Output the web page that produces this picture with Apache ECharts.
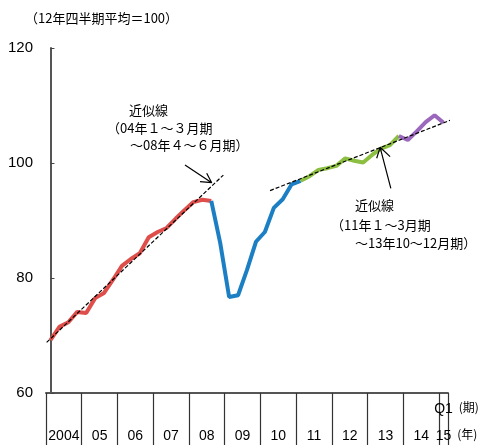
<!DOCTYPE html>
<html>
<head>
<meta charset="utf-8">
<script src="https://cdn.jsdelivr.net/npm/echarts@6/dist/echarts.min.js"></script>
<style>
  html, body { margin: 0; padding: 0; background: #fff; }
  #chart { width: 484px; height: 445px; }
</style>
</head>
<body>
<div id="chart"></div>
<script>
// quarters 2004Q1 .. 2015Q1
const years = ["2004", "05", "06", "07", "08", "09", "10", "11", "12", "13", "14", "15"];
const quarters = [];
years.forEach((y, yi) => {
  for (let q = 1; q <= 4; q++) {
    if (yi === years.length - 1 && q > 1) break;
    quarters.push(y + "Q" + q);
  }
});

// index (12年四半期平均=100)
const values = [
  69.2, 71.5, 72.3, 74.1, 73.9, 76.5, 77.4, 79.7,
  82.1, 83.3, 84.3, 87.1, 88.0, 88.7, 90.3, 91.8,
  93.2, 93.6, 93.4, 86.1, 76.7, 77.0, 81.4, 86.3,
  88.0, 92.2, 93.7, 96.3, 96.9, 97.7, 98.8, 99.1,
  99.5, 100.8, 100.4, 100.1, 101.4, 102.5, 103.1, 104.7,
  104.0, 105.5, 107.1, 108.3, 107.0
];

// colour segments (first, last index)
const segRed = [0, 18];
const segBlue = [18, 28];
const segGreen = [28, 39];
const segPurple = [39, 44];

// trend lines, [quarter index, value]
const fit1 = [[-0.43, 68.8], [19.35, 97.9]];
const fit2 = [[24.58, 95.2], [45.6, 107.95]];

// arrows: tail, tip, barb, tip, barb
const arrow1 = [[15.06, 99.65], [18.05, 96.57], [16.74, 96.75], [18.05, 96.57], [17.49, 98.21]];
const arrow2 = [[38.1, 95.6], [36.9, 102.73], [36.52, 100.82], [36.9, 102.73], [38.02, 101.1]];

const part = (seg) => values.map((v, i) => (i >= seg[0] && i <= seg[1] ? v : "-"));

const jp = "'Noto Sans CJK JP', sans-serif";
const num = "'Liberation Sans', Arial, sans-serif";

const chart = echarts.init(document.getElementById("chart"), null, { renderer: "canvas" });

const colorLine = (name, seg, color) => ({
  name, type: "line", xAxisIndex: 0, data: part(seg),
  showSymbol: false, symbol: "none",
  lineStyle: { color, width: 4 }, itemStyle: { color },
  z: 2
});

chart.setOption({
  animation: false,
  backgroundColor: "#fff",
  title: {
    text: "（12年四半期平均＝100）",
    left: 25, top: 12, padding: 0,
    textStyle: { fontFamily: jp, fontSize: 13, fontWeight: "normal", color: "#000" }
  },
  grid: { left: 46, right: 36, top: 48, bottom: 52, containLabel: false, outerBoundsMode: "none" },
  xAxis: [
    {
      type: "category", data: quarters, boundaryGap: true,
      axisLine: { show: true, lineStyle: { color: "#555", width: 2 } },
      axisTick: {
        show: true, interval: (i) => i % 4 === 0, length: 56,
        lineStyle: { color: "#333", width: 1.2 }
      },
      axisLabel: {
        interval: (i) => i === quarters.length - 1,
        formatter: () => "Q1",
        margin: 9, fontFamily: num, fontSize: 14, color: "#000"
      },
      name: "(期)", nameLocation: "end", nameGap: 9,
      nameTextStyle: { fontFamily: jp, fontSize: 12, color: "#000", verticalAlign: "top", padding: [8, 0, 0, 0] },
      splitLine: { show: false }
    },
    {
      type: "category", data: quarters, boundaryGap: true, position: "bottom", offset: 0,
      axisLine: { show: false }, axisTick: { show: false },
      axisLabel: {
        interval: (i) => i % 4 === 1 || i === quarters.length - 1,
        formatter: (v, i) => i === quarters.length - 1 ? "{e|" + years[years.length - 1] + "}" : "{y|" + years[Math.floor(i / 4)] + "}",
        rich: {
          y: { padding: [0, 0, 0, 9], fontFamily: num, fontSize: 14, color: "#000" },
          e: { fontFamily: num, fontSize: 14, color: "#000" }
        },
        margin: 36
      },
      name: "(年)", nameLocation: "end", nameGap: 9,
      nameTextStyle: { fontFamily: jp, fontSize: 12, color: "#000", verticalAlign: "top", padding: [35, 0, 0, 0] }
    },
    { type: "value", min: -0.5, max: 44.5, show: false }
  ],
  yAxis: {
    type: "value", min: 60, max: 120, interval: 20,
    axisLine: { show: true, lineStyle: { color: "#555", width: 2 } },
    axisTick: { show: true, inside: true, length: 4, lineStyle: { color: "#444" } },
    axisLabel: { margin: 13, fontFamily: num, fontSize: 15, color: "#000" },
    splitLine: { show: false }
  },
  series: [
    colorLine("red", segRed, "#DE4E4A"),
    colorLine("blue", segBlue, "#1C7FC4"),
    colorLine("green", segGreen, "#8CBF41"),
    colorLine("purple", segPurple, "#9B68BD"),
    {
      type: "line", xAxisIndex: 2, data: fit1, symbol: "none", clip: false, z: 3,
      lineStyle: { color: "#000", width: 1.2, type: [4, 2] }
    },
    {
      type: "line", xAxisIndex: 2, data: fit2, symbol: "none", clip: false, z: 3,
      lineStyle: { color: "#000", width: 1.2, type: [4, 2] }
    },
    {
      type: "line", xAxisIndex: 2, data: arrow1, symbol: "none", clip: false, z: 4,
      lineStyle: { color: "#000", width: 1.2 }
    },
    {
      type: "line", xAxisIndex: 2, data: arrow2, symbol: "none", clip: false, z: 4,
      lineStyle: { color: "#000", width: 1.2 }
    }
  ],
  graphic: [
    { type: "text", x: 129, y: 104, style: { text: "近似線", fontFamily: jp, fontSize: 13, fill: "#000" } },
    { type: "text", x: 107, y: 122, style: { text: "（04年１～３月期", fontFamily: jp, fontSize: 13, fill: "#000" } },
    { type: "text", x: 130, y: 139, style: { text: "～08年４～６月期）", fontFamily: jp, fontSize: 13, fill: "#000" } },
    { type: "text", x: 355, y: 199, style: { text: "近似線", fontFamily: jp, fontSize: 13, fill: "#000" } },
    { type: "text", x: 331, y: 219, style: { text: "（11年１～3月期", fontFamily: jp, fontSize: 13, fill: "#000" } },
    { type: "text", x: 355, y: 237, style: { text: "～13年10～12月期）", fontFamily: jp, fontSize: 13, fill: "#000" } }
  ]
});
</script>
</body>
</html>
